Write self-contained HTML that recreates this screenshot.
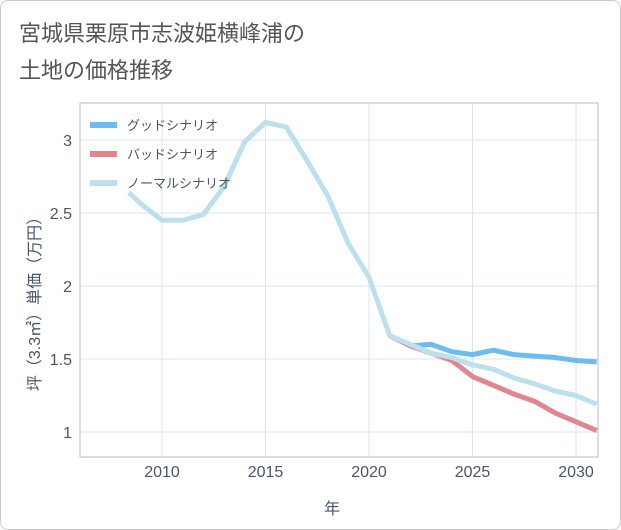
<!DOCTYPE html>
<html><head><meta charset="utf-8"><style>
body{margin:0;background:#fff;}
#c{position:absolute;left:0;top:0;width:619px;height:528px;border:1px solid #ccc;border-radius:8px;background:#fff;font-family:"Liberation Sans","Noto Sans CJK JP",sans-serif;}
.t{position:absolute;left:18px;font-size:22px;color:#555;}
</style></head><body>
<div id="c">
<div class="t" style="top:15px">宮城県栗原市志波姫横峰浦の</div>
<div class="t" style="top:52px">土地の価格推移</div>
<svg id="s" width="621" height="530" style="position:absolute;left:-1px;top:-1px"></svg>
</div>
<script>
const years=[2008.4,2009,2010,2011,2012,2013,2014,2015,2016,2017,2018,2019,2020,2021,2022,2023,2024,2025,2026,2027,2028,2029,2030,2031];
const normalVals=[2.64,2.56,2.45,2.45,2.49,2.68,2.99,3.12,3.09,2.86,2.62,2.29,2.06,1.66,1.60,1.54,1.51,1.46,1.43,1.37,1.33,1.28,1.25,1.19];
const goodYears=[2021,2022,2023,2024,2025,2026,2027,2028,2029,2030,2031];
const good=[1.66,1.59,1.60,1.55,1.53,1.56,1.53,1.52,1.51,1.49,1.48];
const bad=[1.66,1.59,1.54,1.49,1.38,1.32,1.26,1.21,1.13,1.07,1.01];
const xTicks=[2010,2015,2020,2025,2030];
const yTicks=[1,1.5,2,2.5,3];
const L=80,R=598,T=103,B=457;
const TC='#4a5568';
const x=v=>162+(v-2010)*20.7;
const y=v=>432-(v-1)*146;
const s=document.getElementById('s');const ns='http://www.w3.org/2000/svg';
function el(t,a,p){const e=document.createElementNS(ns,t);for(const k in a)e.setAttribute(k,a[k]);(p||s).appendChild(e);return e;}
xTicks.forEach(v=>{const l=el('line',{x1:x(v),x2:x(v),y1:T,y2:B,stroke:'#d9e6ee','stroke-width':1});

const t=el('text',{x:x(v),y:477,'text-anchor':'middle','font-size':16,fill:TC});t.textContent=v;
});
yTicks.forEach(v=>{const l=el('line',{x1:L,x2:R,y1:y(v),y2:y(v),stroke:'#d9e6ee','stroke-width':1});

const t=el('text',{x:72,y:y(v)+6,'text-anchor':'end','font-size':16,fill:TC});t.textContent=v;
});
const fr=el('rect',{x:L,y:T,width:R-L,height:B-T,fill:'none',stroke:'#bbb'});

const cp=el('clipPath',{id:'cp'});el('rect',{x:L,y:T,width:R-L,height:B-T},cp);
function line(xs,vs,c,n){const p=el('polyline',{points:xs.map((v,i)=>x(v)+','+y(vs[i])).join(' '),fill:'none',stroke:c,'stroke-width':5,'stroke-linejoin':'round','clip-path':'url(#cp)'});
}
line(goodYears,good,'#6bbcf3','good-scenario-line');
line(goodYears,bad,'#e0868c','bad-scenario-line');
line(years,normalVals,'#bde0ec','normal-scenario-line');
[['グッドシナリオ','#6bbcf3',125,'legend-good'],['バッドシナリオ','#e0868c',154,'legend-bad'],['ノーマルシナリオ','#bde0ec',183,'legend-normal']].forEach(d=>{
const g=el('g',{});
el('line',{x1:90,x2:117,y1:d[2],y2:d[2],stroke:d[1],'stroke-width':6},g);
const t=el('text',{x:127,y:d[2]+5,'font-size':13,fill:TC},g);t.textContent=d[0];});
const yt=el('text',{transform:'translate(40,300) rotate(-90)','text-anchor':'middle','font-size':16,fill:TC});yt.textContent='坪（3.3㎡）単価（万円）';

const xt=el('text',{x:332,y:514,'text-anchor':'middle','font-size':16,fill:TC});xt.textContent='年';

</script>
</body></html>
